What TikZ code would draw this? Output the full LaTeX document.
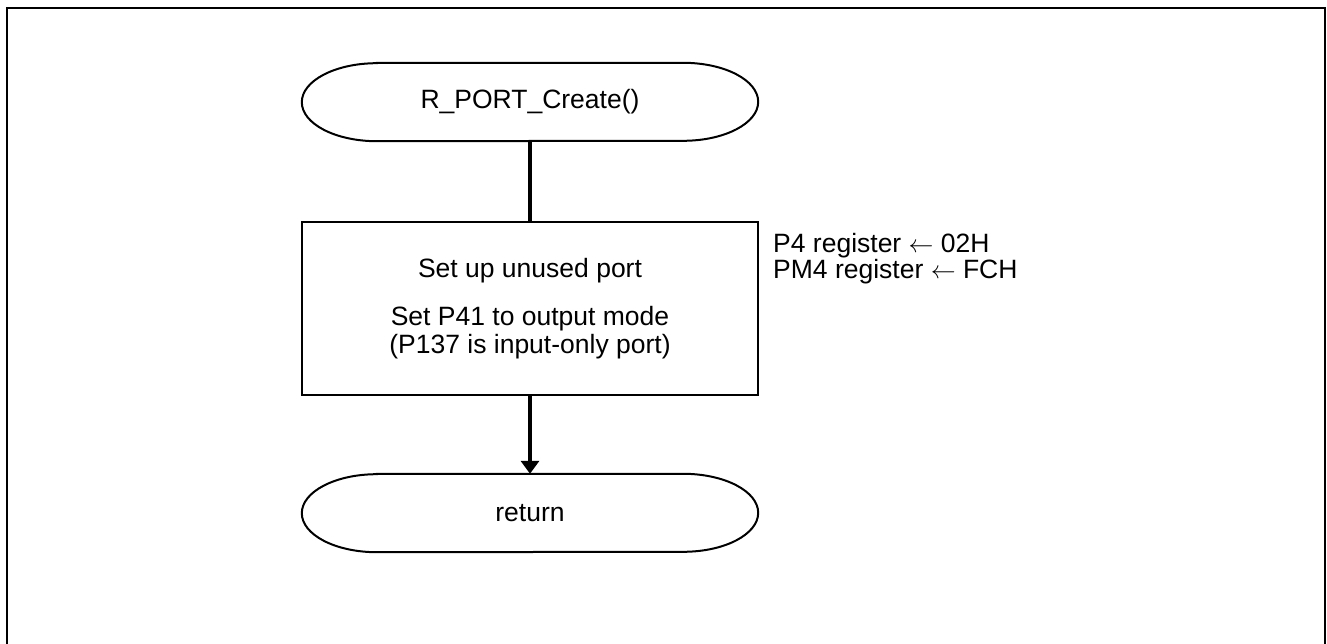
\documentclass[tikz,border=0pt]{standalone}
\usepackage{fontspec}
\setmainfont{Liberation Sans}
\usetikzlibrary{arrows.meta}
\tikzset{
  frameline/.style={line width=2.5pt},
  termbox/.style={draw=none,minimum width=456pt,minimum height=78pt,inner sep=0pt,font=\fontsize{26.5}{30}\selectfont},
  termline/.style={line width=2pt},
  procbox/.style={draw,line width=2pt,minimum width=456pt,minimum height=173pt,inner sep=0pt,align=center,font=\fontsize{26.5}{28}\selectfont},
  note/.style={align=left,inner sep=0pt,anchor=north west,font=\fontsize{26.5}{26.5}\selectfont},
  conn/.style={line width=3.5pt},
  arr/.style={line width=3.5pt,-{Triangle[width=18pt,length=13pt]}}
}
\begin{document}
\begin{tikzpicture}[x=1pt,y=-1pt]
\useasboundingbox (0,0) rectangle (1327,644);
% frame (open at bottom)
\draw[frameline] (7,650) -- (7,8) -- (1325,8) -- (1325,650);
% start terminal
\node[termbox] (start) at (530,102) {R\_PORT\_Create()};
\draw[termline] ([xshift=75pt]start.north west) -- ([xshift=-75pt]start.north east)
  arc[start angle=90,end angle=-90,x radius=75pt,y radius=39pt]
  -- ([xshift=75pt]start.south west)
  arc[start angle=270,end angle=90,x radius=75pt,y radius=39pt] -- cycle;
% process box
\node[procbox] (proc) at (530,308.5) {Set up unused port\\[20pt]Set P41 to output mode\\(P137 is input-only port)};
% annotation
\node[note] (ann) at (773,233) {P4 register $\leftarrow$ 02H\\PM4 register $\leftarrow$ FCH};
% return terminal
\node[termbox] (ret) at (530,513) {return};
\draw[termline] ([xshift=75pt]ret.north west) -- ([xshift=-75pt]ret.north east)
  arc[start angle=90,end angle=-90,x radius=75pt,y radius=39pt]
  -- ([xshift=75pt]ret.south west)
  arc[start angle=270,end angle=90,x radius=75pt,y radius=39pt] -- cycle;
% connectors
\draw[conn] (start.south) -- (proc.north);
\draw[arr] (proc.south) -- (ret.north);
\end{tikzpicture}
\end{document}
